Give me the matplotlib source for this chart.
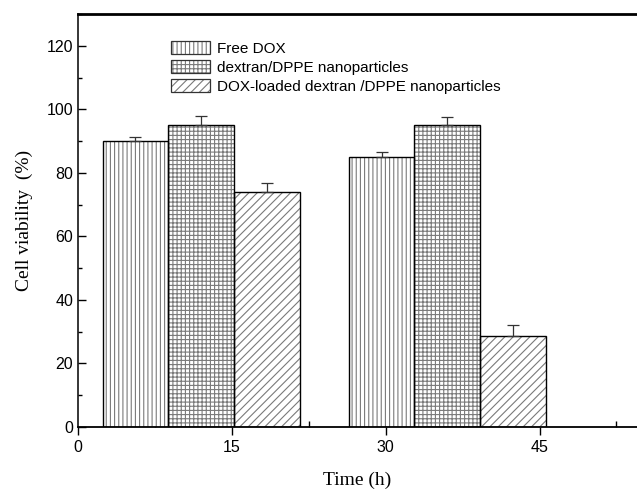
import numpy as np
import matplotlib
matplotlib.use("Agg")
import matplotlib.pyplot as plt
from matplotlib.ticker import MultipleLocator

# cell viability after 12 h and 36 h incubation
times = [12, 36]
series = ["Free DOX", "dextran/DPPE nanoparticles", "DOX-loaded dextran /DPPE nanoparticles"]
viability = [[90.0, 84.9], [95.0, 95.0], [73.9, 28.5]]
errors = [[1.3, 1.8], [3.0, 2.5], [3.0, 3.6]]
hatches = ["||||", "++++", "////"]

plt.rcParams['font.family'] = ['Liberation Sans', 'DejaVu Sans']
plt.rcParams['hatch.linewidth'] = 0.8

fig = plt.figure(figsize=(6.37, 4.91), dpi=100)
ax = fig.add_axes([0.1224, 0.1303, 0.8776, 0.8412])

width = 6.4
hatch_gray = '#7a7a7a'
x = np.array(times, dtype=float)
handles = []
for i in range(3):
    pos = x + (i - 1) * width
    # gray hatch fill first, then a black outline on top
    ax.bar(pos, viability[i], width, color='white', edgecolor=hatch_gray,
           linewidth=0, hatch=hatches[i], zorder=2)
    ax.bar(pos, viability[i], width, fill=False, edgecolor='black',
           linewidth=1.0, zorder=2.5)
    ax.errorbar(pos, viability[i], yerr=[np.zeros(2), errors[i]], fmt='none',
                ecolor='#333333', elinewidth=0.9, capsize=4, capthick=0.9, zorder=3)
    h = plt.Rectangle((0, 0), 1, 1, facecolor='white', edgecolor=hatch_gray,
                      hatch=hatches[i], linewidth=0)
    o = plt.Rectangle((0, 0), 1, 1, fill=False, edgecolor='#333333', linewidth=0.9)
    handles.append((h, o))

ax.set_xlim(0, 54.5)
ax.set_ylim(0, 130)
ax.set_xticks([0, 15, 30, 45])
ax.set_yticks(range(0, 121, 20))
ax.xaxis.set_minor_locator(MultipleLocator(7.5))
ax.yaxis.set_minor_locator(MultipleLocator(10))
ax.tick_params(axis='x', which='major', direction='out', length=6, width=1, labelsize=11.5)
ax.tick_params(axis='x', which='minor', direction='in', length=4, width=1)
ax.tick_params(axis='y', which='major', direction='in', length=6, width=1, labelsize=11.5)
ax.tick_params(axis='y', which='minor', direction='in', length=3, width=1)

ax.spines['right'].set_visible(False)
ax.spines['top'].set_linewidth(2)
ax.spines['bottom'].set_linewidth(1.3)
ax.spines['left'].set_linewidth(1.1)

ax.set_xlabel('Time (h)', family='Liberation Serif', fontsize=14, labelpad=12)
ax.set_ylabel('Cell viability  (%)', family='Liberation Serif', fontsize=14, labelpad=10)

ax.legend(handles, series, loc='upper left', bbox_to_anchor=(0.155, 0.95), frameon=False,
          fontsize=11, handlelength=2.6, handleheight=1.0, handletextpad=0.4,
          labelspacing=0.25, borderaxespad=0)

fig.savefig('out.png', dpi=100)
